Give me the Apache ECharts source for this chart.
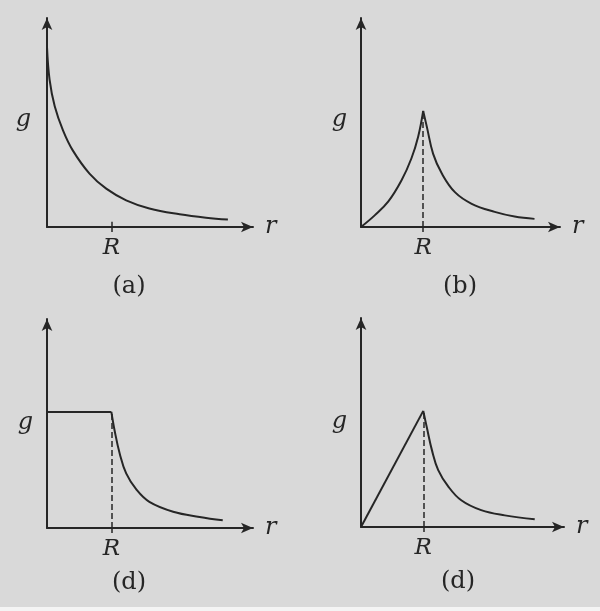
<!DOCTYPE html>
<html>
<head>
<meta charset="utf-8">
<script src="https://cdn.jsdelivr.net/npm/echarts@6/dist/echarts.min.js"></script>
<style>html,body{margin:0;padding:0;background:#d9d9d9;}#c{width:600px;height:611px;}</style>
</head>
<body>
<div id="c"></div>
<script>
// r in units of R, g in units of g at the surface
var panelLabels = ['(a)', '(b)', '(d)', '(d)'];
var axisNameX = 'r';
var axisNameY = 'g';
var tickLabelR = 'R';

// (a) single decaying curve
var aCurve = [[0,1.55],[0.04,1.27],[0.12,1.04],[0.25,0.83],[0.40,0.66],[0.66,0.46],[0.92,0.33],[1.23,0.23],[1.59,0.16],[2.06,0.11],[2.47,0.08],[2.81,0.064]];
// (b) rising inside, falling outside
var bInside = [[0,0],[0.22,0.10],[0.44,0.22],[0.65,0.40],[0.81,0.59],[0.92,0.78],[1.0,1.0]];
var bOutside = [[1.0,1.0],[1.06,0.86],[1.16,0.63],[1.30,0.46],[1.51,0.30],[1.78,0.20],[2.15,0.13],[2.47,0.09],[2.79,0.07]];
// (c) constant inside, falling outside
var cInside = [[0,1.0],[1.0,1.0]];
var cOutside = [[1.0,1.0],[1.05,0.84],[1.13,0.64],[1.23,0.47],[1.39,0.33],[1.59,0.225],[1.96,0.14],[2.37,0.095],[2.73,0.066]];
// (d) linear inside, falling outside
var dInside = [[0,0],[1.0,1.0]];
var dOutside = [[1.0,1.0],[1.06,0.85],[1.14,0.66],[1.24,0.49],[1.40,0.35],[1.61,0.23],[1.93,0.145],[2.31,0.10],[2.79,0.066]];

var ink = '#262626';
var serif = 'DejaVu Serif';

var grids = [
  {left: 47, top: 18, width: 206, height: 209},
  {left: 361, top: 18, width: 199, height: 209},
  {left: 47, top: 319, width: 206, height: 209},
  {left: 361, top: 318, width: 203, height: 209}
];
var xMax = [3.2, 3.2, 3.2, 3.26];
var yMax = 1.8;
var gLevel = [0.92, 0.92, 0.91, 0.91];
var gMargin = [16, 14, 14, 14];

function xAxisFor(i) {
  return {
    type: 'value', gridIndex: i, min: 0, max: xMax[i],
    splitLine: {show: false},
    axisLine: {show: true, onZero: false, symbol: ['none', 'arrow'], symbolSize: [8, 12], symbolOffset: [0, 0], lineStyle: {color: ink, width: 2}},
    axisTick: {show: true, customValues: [1], length: 5, lineStyle: {color: ink, width: 1.5}},
    axisLabel: {show: true, customValues: [1], formatter: function () { return tickLabelR; }, margin: 10, color: ink, fontFamily: serif, fontStyle: 'italic', fontSize: 23},
    name: axisNameX, nameLocation: 'end', nameGap: 12,
    nameTextStyle: {color: ink, fontFamily: serif, fontStyle: 'italic', fontSize: 24, verticalAlign: 'middle', padding: [0, 0, 4, 0]}
  };
}
function yAxisFor(i) {
  return {
    type: 'value', gridIndex: i, min: 0, max: yMax,
    splitLine: {show: false},
    axisLine: {show: true, onZero: false, symbol: ['none', 'arrow'], symbolSize: [8, 12], lineStyle: {color: ink, width: 2}},
    axisTick: {show: false},
    axisLabel: {show: true, customValues: [gLevel[i]], formatter: function () { return axisNameY; }, margin: gMargin[i], color: ink, fontFamily: serif, fontStyle: 'italic', fontSize: 24}
  };
}

function curve(i, data, withDash) {
  var s = {
    type: 'line', xAxisIndex: i, yAxisIndex: i, data: data,
    showSymbol: false, smooth: 0.4, clip: false,
    lineStyle: {color: ink, width: 2}, silent: true
  };
  if (withDash) {
    s.markLine = {
      silent: true, symbol: ['none', 'none'], label: {show: false},
      lineStyle: {color: ink, width: 1.5, type: [6, 3]},
      data: [[{coord: [1, 0]}, {coord: [1, 1]}]]
    };
  }
  return s;
}

var series = [
  curve(0, aCurve, false),
  {
    type: 'line', xAxisIndex: 0, yAxisIndex: 0, data: [], silent: true,
    markLine: {silent: true, symbol: ['none', 'none'], label: {show: false},
      lineStyle: {color: ink, width: 1.5, type: 'solid'},
      data: [[{coord: [1, 0]}, {coord: [1, 0.045]}]]}
  },
  curve(1, bInside, false),
  curve(1, bOutside, true),
  curve(2, cInside, false),
  curve(2, cOutside, true),
  curve(3, dInside, false),
  curve(3, dOutside, true)
];

var labelPos = [[129, 287], [460, 287], [129, 583], [458, 582]];
var graphics = labelPos.map(function (p, i) {
  return {type: 'text', x: p[0], y: p[1], style: {text: panelLabels[i], fill: ink, font: '24px "DejaVu Serif"', align: 'center', verticalAlign: 'middle'}};
});
graphics.push({type: 'rect', shape: {x: 0, y: 607, width: 600, height: 4}, style: {fill: '#f4f4f4'}});

var chart = echarts.init(document.getElementById('c'), null, {renderer: 'canvas'});
chart.setOption({
  backgroundColor: '#d9d9d9',
  animation: false,
  grid: grids,
  xAxis: [0, 1, 2, 3].map(xAxisFor),
  yAxis: [0, 1, 2, 3].map(yAxisFor),
  series: series,
  graphic: graphics
});
</script>
</body>
</html>
